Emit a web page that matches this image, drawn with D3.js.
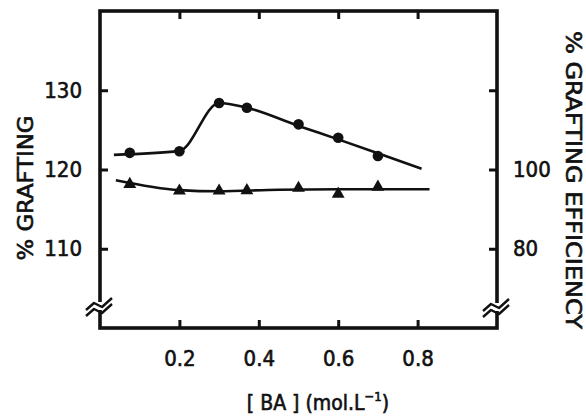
<!DOCTYPE html>
<html>
<head>
<meta charset="utf-8">
<script src="https://cdn.jsdelivr.net/npm/d3@7/dist/d3.min.js"></script>
<style>
  html, body { margin: 0; padding: 0; background: #fff; }
  svg { display: block; }
  text { font-family: "DejaVu Sans Condensed", "DejaVu Sans", sans-serif; fill: #111; stroke: #111; stroke-width: 0.6px; }
</style>
</head>
<body>
<svg id="chart" width="586" height="418"></svg>
<script>
// [BA] concentrations (mol/L) at which samples were measured
const concentration = [0.075, 0.2, 0.3, 0.37, 0.5, 0.6, 0.7];
// % grafting (left axis, circles)
const grafting = [122.1, 122.3, 128.4, 127.8, 125.7, 124.0, 121.7];
// % grafting efficiency (right axis, triangles)
const efficiency = [96.3, 94.6, 94.6, 94.7, 95.3, 93.8, 95.6];

// hand-drawn trend curves through each series
const graftingFitX = [0.035, 0.2, 0.3, 0.37, 0.5, 0.6, 0.7, 0.81];
const graftingFitY = [121.85, 122.35, 128.4, 127.8, 125.5, 123.8, 122.05, 120.1];
const efficiencyFitX = [0.04, 0.2, 0.3, 0.45, 0.6, 0.83];
const efficiencyFitY = [97.3, 94.8, 94.5, 94.9, 95.0, 95.0];

// tick values
const xTicks = [0.2, 0.4, 0.6, 0.8];
const leftTicks = [110, 120, 130];
const rightTicks = [80, 100, 120];
const rightLabels = ["80", "100", ""];

const svg = d3.select("#chart");
const L = 100, R = 497, T = 11, B = 328;

const x = d3.scaleLinear().domain([0, 1]).range([L, R]);
const yL = d3.scaleLinear().domain([100, 140]).range([B, T]);
const yR = d3.scaleLinear().domain([60, 140]).range([B, T]);

const ink = "#111";

// ticks pointing inward on all four sides
const bottomAxis = d3.axisBottom(x).tickValues(xTicks).tickSize(-8).tickPadding(22)
  .tickFormat(d3.format(".1f"));
const topAxis = d3.axisTop(x).tickValues(xTicks).tickSize(-8).tickFormat("");
const leftAxis = d3.axisLeft(yL).tickValues(leftTicks).tickSize(-8).tickPadding(18);
const rightAxis = d3.axisRight(yR).tickValues(rightTicks).tickSize(-8).tickPadding(16)
  .tickFormat((d, i) => rightLabels[i]);

function styleAxis(g) {
  g.select(".domain").remove();
  g.selectAll("line").attr("stroke", ink).attr("stroke-width", 3);
  g.selectAll("text").attr("fill", ink).style("font-size", "22px");
}

svg.append("g").attr("transform", `translate(0,${B})`).call(bottomAxis).call(styleAxis);
svg.append("g").attr("transform", `translate(0,${T})`).call(topAxis).call(styleAxis);
svg.append("g").attr("transform", `translate(${L},0)`).call(leftAxis).call(styleAxis);
svg.append("g").attr("transform", `translate(${R},0)`).call(rightAxis).call(styleAxis);

// frame
svg.append("rect")
  .attr("x", L).attr("y", T).attr("width", R - L).attr("height", B - T)
  .attr("fill", "none").attr("stroke", ink).attr("stroke-width", 3.6);

// axis break marks near the bottom of both vertical axes
function breakMark(cx, cy) {
  const g = svg.append("g").attr("transform", `translate(${cx},${cy})`);
  g.append("rect").attr("x", -3).attr("y", -5).attr("width", 6).attr("height", 8).attr("fill", "#fff");
  [-3, 3].forEach(o => {
    g.append("path")
      .attr("d", `M-14,${6 + o} L-6,${-1 + o} L2,${3 + o} L12,${-6 + o}`)
      .attr("fill", "none").attr("stroke", ink).attr("stroke-width", 2.4)
      .attr("stroke-linejoin", "round");
  });
}
breakMark(L, 307);
breakMark(R, 308);

// trend curves
const graftLine = d3.line().x(d => x(d[0])).y(d => yL(d[1])).curve(d3.curveMonotoneX);
const effLine = d3.line().x(d => x(d[0])).y(d => yR(d[1])).curve(d3.curveMonotoneX);

svg.append("path")
  .attr("d", graftLine(d3.zip(graftingFitX, graftingFitY)))
  .attr("fill", "none").attr("stroke", ink).attr("stroke-width", 2.6);
svg.append("path")
  .attr("d", effLine(d3.zip(efficiencyFitX, efficiencyFitY)))
  .attr("fill", "none").attr("stroke", ink).attr("stroke-width", 2.6);

// markers
svg.append("g").selectAll("circle")
  .data(d3.zip(concentration, grafting))
  .join("circle")
  .attr("cx", d => x(d[0])).attr("cy", d => yL(d[1])).attr("r", 5.3)
  .attr("fill", ink);

const tri = d3.symbol().type(d3.symbolTriangle).size(72);
svg.append("g").selectAll("path")
  .data(d3.zip(concentration, efficiency))
  .join("path")
  .attr("d", tri)
  .attr("transform", d => `translate(${x(d[0])},${yR(d[1])})`)
  .attr("fill", ink);

// axis titles
svg.append("text")
  .attr("transform", "translate(33,188) rotate(-90)")
  .attr("text-anchor", "middle")
  .attr("textLength", 145).attr("lengthAdjust", "spacingAndGlyphs")
  .style("font-size", "21px")
  .text("% GRAFTING");

svg.append("text")
  .attr("transform", "translate(566,180) rotate(90)")
  .attr("text-anchor", "middle")
  .attr("textLength", 298).attr("lengthAdjust", "spacingAndGlyphs")
  .style("font-size", "21px")
  .text("% GRAFTING EFFICIENCY");

const xt = svg.append("text")
  .attr("x", 318).attr("y", 410)
  .attr("text-anchor", "middle")
  .style("font-size", "21px");
xt.append("tspan").text("[ BA ] (mol.L");
xt.append("tspan").attr("dy", -9).style("font-size", "13px").text("−1");
xt.append("tspan").attr("dy", 9).text(")");
</script>
</body>
</html>
